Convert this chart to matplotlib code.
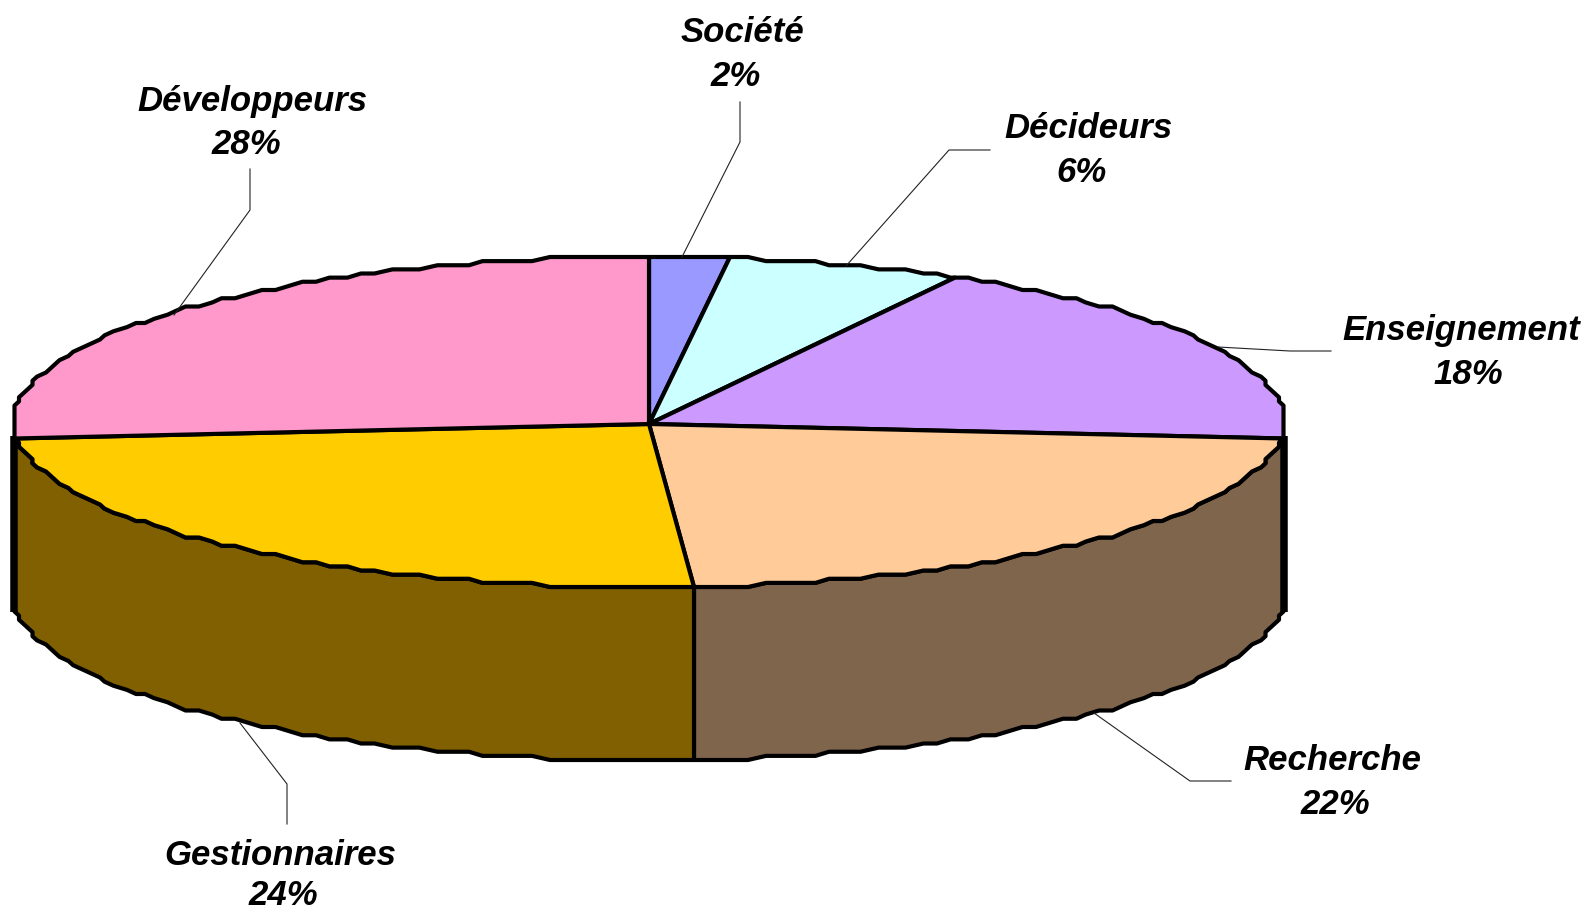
import numpy as np
import matplotlib
matplotlib.use("Agg")
import matplotlib.pyplot as plt

# Data
categories = ["Société", "Décideurs", "Enseignement", "Recherche", "Gestionnaires", "Développeurs"]
percent_labels = [2, 6, 18, 22, 24, 28]
# slice shares as measured on the drawn pie
drawn_shares = [2.0, 6.0, 18.4, 22.5, 24.7, 26.4]
top_colors = ["#9999FF", "#CCFFFF", "#CC99FF", "#FFCC99", "#FFCC00", "#FF99CC"]
side_colors = {"Recherche": "#80654D", "Gestionnaires": "#806000"}

# Layout (pixels of the 1588x912 figure)
W, H = 1588, 912
CX, CY, RX, RY = 649.0, 423.0, 636.0, 165.0
HUB = (649.0, 425.0)
DEPTH = 173.0
name_pos = [(742, 33), (1089, 129), (1461, 331), (1332, 761), (280, 856), (252, 101)]
pct_pos = [(736, 77), (1082, 173), (1468, 375), (1335, 805), (283, 896), (246, 145)]
leaders = [
    [(740, 103), (740, 143), (682, 258)],
    [(846, 267), (949, 151), (990, 151)],
    [(1218, 348), (1290, 352), (1331, 352)],
    [(1094, 714), (1190, 782), (1231, 782)],
    [(240, 724), (287, 785), (287, 825)],
    [(174, 316), (250, 211), (250, 170)],
]

plt.rcParams["font.family"] = ["Liberation Sans", "DejaVu Sans"]
fig = plt.figure(figsize=(W / 100, H / 100), dpi=100, facecolor="white")
ax = fig.add_axes([0, 0, 1, 1])
ax.set_xlim(0, W)
ax.set_ylim(H, 0)
ax.axis("off")

LW = 3.0


def rim(t0, t1, dy=0.0):
    """Points of the pie's rim from angle t0 to t1 (deg clockwise from top),
    snapped to a coarse grid like the low-resolution outline of the original."""
    grid = np.arange(np.ceil(t0 / 1.5) * 1.5, t1, 1.5)
    ts = np.unique(np.concatenate([[t0], grid, [t1]]))
    r = np.radians(ts)
    x = RX * np.sin(r)
    y = -RY * np.cos(r)
    x = CX + np.round(x / 4.5) * 4.5
    y = CY + np.round(y / 4.125) * 4.125
    return x, y + dy


bounds = np.concatenate([[0.0], np.cumsum(drawn_shares)]) * 3.6

# Sides of the front slices, then the thick end bars
for name, t0, t1 in zip(categories, bounds[:-1], bounds[1:]):
    if name not in side_colors:
        continue
    xt, yt = rim(t0, t1)
    xb, yb = rim(t0, t1, DEPTH)
    ax.fill(np.r_[xt, xb[::-1]], np.r_[yt, yb[::-1]], fc=side_colors[name],
            ec="black", lw=LW, joinstyle="round", zorder=2)

for t in (bounds[3], bounds[5]):
    r = np.radians(t)
    x = CX + RX * np.sin(r)
    side = np.sign(np.sin(r))
    y0 = CY - RY * np.cos(r)
    ax.plot([x + side * 1.5] * 2, [y0, y0 + DEPTH + 3], color="black", lw=5.4,
            solid_capstyle="butt", zorder=3)

# Top surface
for color, t0, t1 in zip(top_colors, bounds[:-1], bounds[1:]):
    x, y = rim(t0, t1)
    ax.fill(np.r_[HUB[0], x], np.r_[HUB[1], y], fc=color, ec="black", lw=LW,
            joinstyle="round", zorder=4)

# Leader lines and labels
for pts in leaders:
    xs, ys = zip(*pts)
    ax.plot(xs, ys, color="#222222", lw=0.8, zorder=5)

for name, pct, np_, pp in zip(categories, percent_labels, name_pos, pct_pos):
    ax.text(np_[0], np_[1], name, fontsize=25, fontweight="bold", fontstyle="italic",
            ha="center", va="center", color="black", zorder=6)
    ax.text(pp[0], pp[1], f"{pct}%", fontsize=25, fontweight="bold", fontstyle="italic",
            ha="center", va="center", color="black", zorder=6)

fig.savefig("out.png", dpi=100, facecolor="white")
